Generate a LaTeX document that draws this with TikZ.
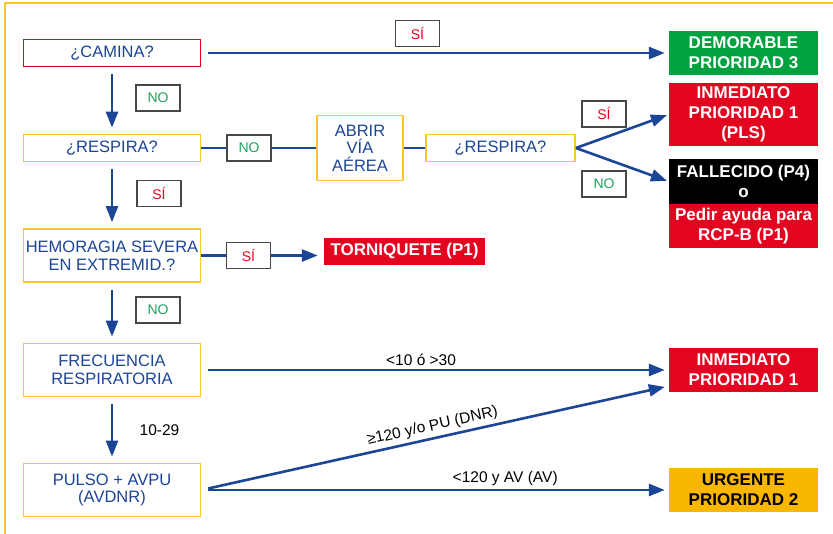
\documentclass[tikz,border=0pt]{standalone}
\usepackage{fontspec}
\setmainfont{Liberation Sans}
\usetikzlibrary{arrows.meta}
\definecolor{azul}{HTML}{1B4596}
\definecolor{rojo}{HTML}{E3051F}
\definecolor{verde}{HTML}{00A13F}
\definecolor{verdetxt}{HTML}{1EA25E}
\definecolor{amarillo}{HTML}{FDC52C}
\definecolor{naranja}{HTML}{FAB700}

\begin{document}
\begin{tikzpicture}[
  x=1pt,y=-1pt,>={Triangle[length=16pt,width=12pt]},
  pregunta/.style={draw=amarillo,line width=1.8pt,fill=white,text=azul,
    align=center,font=\fontsize{16.5}{17.5}\selectfont,minimum width=177pt,
    minimum height=27pt,inner sep=0pt},
  doble/.style={pregunta,minimum height=53pt},
  destino/.style={fill=#1,text=white,align=center,
    font=\fontsize{17}{20}\selectfont\bfseries,minimum width=149pt,
    minimum height=44pt,inner sep=0pt},
  caja/.style={draw=black!72,line width=1.2pt,fill=white,
    font=\fontsize{14}{14}\selectfont,minimum width=44pt,minimum height=26pt,
    inner sep=0pt},
  si/.style={caja,text=rojo},
  no/.style={caja,text=verdetxt},
  etiq/.style={font=\fontsize{15.5}{16}\selectfont,text=black},
  linea/.style={draw=azul,line width=2.6pt},
  flecha/.style={linea,->,shorten <=7pt,shorten >=4pt},
  marco/.style={draw=amarillo,line width=1.4pt}
]
\useasboundingbox (0,0) rectangle (833,534);
\draw[marco] (833,3) -- (5,3) -- (5,534);

% preguntas
\node[pregunta,draw=rojo] (camina) at (112,53) {¿CAMINA?};
\node[pregunta]           (respA)  at (112,148) {¿RESPIRA?};
\node[doble]              (hemo)   at (112,255.5) {HEMORAGIA SEVERA\\EN EXTREMID.?};
\node[doble]              (frec)   at (112,370) {FRECUENCIA\\RESPIRATORIA};
\node[doble]              (pulso)  at (112,490) {PULSO + AVPU\\(AVDNR)};
\node[pregunta,minimum width=86pt,minimum height=65pt] (abrir) at (360,148) {ABRIR\\VÍA\\AÉREA};
\node[pregunta,minimum width=149pt] (respB) at (500.5,148) {¿RESPIRA?};

% destinos
\node[destino=verde] (demor) at (743.5,53) {DEMORABLE\\PRIORIDAD 3};
\node[destino=rojo,minimum height=63pt] (inmA) at (743.5,114.5) {INMEDIATO\\PRIORIDAD 1\\(PLS)};
\node[destino=black,minimum height=45pt] (fall) at (743.5,181.5) {FALLECIDO (P4)\\o};
\node[destino=rojo] (pedir) at (743.5,226) {Pedir ayuda para\\RCP-B (P1)};
\node[destino=rojo,minimum width=161pt,minimum height=27pt] (torn) at (404.5,251.5) {TORNIQUETE (P1)};
\node[destino=rojo] (inmB) at (743.5,370) {INMEDIATO\\PRIORIDAD 1};
\node[destino=naranja,text=black] (urg) at (743.5,490) {URGENTE\\PRIORIDAD 2};

% respuestas
\node[si] (siA) at (417.5,33.5) {SÍ};
\node[no] (noA) at (158,98) {NO};
\node[no] (noB) at (249,148) {NO};
\node[si] (siB) at (604,114) {SÍ};
\node[no] (noC) at (604,184) {NO};
\node[si] (siC) at (159,193.5) {SÍ};
\node[si] (siD) at (248.5,255.5) {SÍ};
\node[no] (noD) at (158,310) {NO};

% flechas
\draw[flecha] (camina) -- (demor);
\draw[flecha,shorten >=6pt] (camina) -- (respA);
\draw[flecha,shorten >=6pt] (respA) -- (hemo);
\draw[flecha,shorten >=6pt] (hemo) -- (frec);
\draw[flecha,shorten >=6pt] (frec) -- node[right=23pt,etiq] (lblD) {10-29} (pulso);
\draw[linea] (respA) -- (noB) -- (abrir) -- (respB);
\draw[flecha,shorten <=0pt,shorten >=2pt] (respB.east) -- (inmA.west);
\draw[flecha,shorten <=0pt,shorten >=2pt] (respB.east) -- (fall.west);
\draw[linea] (hemo) -- (siD);
\draw[flecha,shorten <=0pt,shorten >=6pt] (siD) -- (siD -| torn.west);
\draw[flecha] (frec) -- node[above,pos=0.47,etiq] (lblA) {<10 ó >30} (inmB);
\draw[flecha] (pulso.east) -- node[above,sloped,etiq] (lblB) {≥120 y/o PU (DNR)} ([yshift=-16pt]inmB.west);
\draw[flecha] (pulso) -- node[above,pos=0.65,etiq] (lblC) {<120 y AV (AV)} (urg);
\end{tikzpicture}
\end{document}
